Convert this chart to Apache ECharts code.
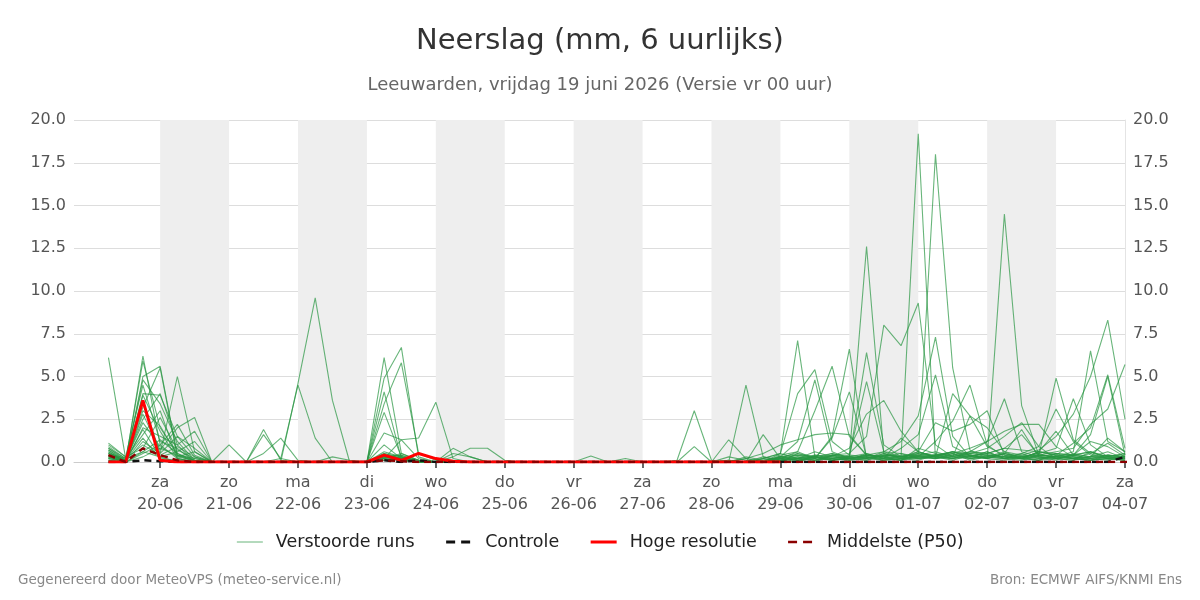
<!DOCTYPE html>
<html>
<head>
<meta charset="utf-8">
<title>Neerslag</title>
<script src="https://cdn.jsdelivr.net/npm/echarts@6/dist/echarts.min.js"></script>
<style>
  html, body { margin: 0; padding: 0; background: #fff; }
  #chart { width: 1200px; height: 600px; }
</style>
</head>
<body>
<div id="chart"></div>
<script>
// tijdas: 6-uurlijks van 18-06 18u tot 04-07 00u, runs beginnen op 19-06 06u
var startTime = Date.UTC(2026, 5, 18, 18);
var stepCount = 62;
var dataOffset = 2;
var dayNames = ['zo', 'ma', 'di', 'wo', 'do', 'vr', 'za'];
// dagen met grijze achtergrond
var shadedDays = ['2026-06-20', '2026-06-22', '2026-06-24', '2026-06-26', '2026-06-28', '2026-06-30', '2026-07-02'];

// verstoorde runs (mm per 6 uur)
var m1  = [6.1,0.2,0.6, 0.3,0,0,0, 0,0,0,0, 0,0,0,0, 0,0.4,0.2,0, 0,0,0,0, 0,0,0,0, 0,0,0,0, 0,0,0,0, 0,0,0,0.1, 0.2,0,0.3,0.1, 0.2,0.1,0.4,0.3, 19.2,0.2,0.5,0.1, 0.3,0.6,0.2,0.1, 0.4,0.2,0.1,0.3, 0.1];
var m2  = [0.5,0,6.2, 1.0,0.2,0,0, 0,0,0,0, 0,0,0,0, 0,0.2,1.3,0.2, 0,0.3,0.8,0.8, 0.1,0,0,0, 0,0,0,0, 0,0,0,0, 0,0.1,0,0, 0.3,0.1,0,0.4, 0.1,0.5,0.2,0.3, 0.5,18.0,5.5,0.7, 0.2,0.1,0.3,0.5, 0.2,0.1,0.6,0.2, 0.1];
var m3  = [0.8,0.1,5.9, 2.0,0.5,0.1,0, 0,0,0,0, 0,0,0,0, 0,6.1,0.5,0.1, 0,0,0,0, 0,0,0,0, 0,0,0,0, 0,0,0,0, 0,0,0.2,0, 0,0.5,0.3,0.1, 0.2,0.4,0.6,1.2, 2.7,7.3,1.5,0.3, 0.6,0.2,0.1,0.4, 0.3,0.2,0.5,1.1, 0.4];
var m4  = [0.3,0,5.0, 5.6,0.4,0,0, 0,0,0,0, 0,0,0,0, 0,0.3,0.1,0, 0,0,0,0, 0,0,0,0, 0,0,0,0, 0,0,0.1,3.0, 0.1,0,0,0.2, 0.1,0,0.4,0.2, 0.1,0.3,0.2,0.8, 1.6,5.1,0.9,0.4, 0.2,0.5,1.9,0.3, 0.2,0.1,0.3,0.6, 0.2];
var m5  = [1.1,0.3,4.5, 1.2,0.8,0,0, 0,0,0,0, 0,0,0.3,0.1, 0,0.2,0.5,0.1, 0,0.5,0.3,0, 0,0,0,0, 0,0,0,0, 0,0,0,0, 0,0.3,0.1,0, 0.2,0.1,0.2,0.5, 0.3,0.2,0.1,0.4, 0.3,1.2,2.4,4.5, 1.0,0.3,0.2,0.6, 0.4,0.3,0.2,0.1, 0.3];
var m6  = [0.6,0,4.0, 3.9,1.5,0.3,0, 0,0,0,0, 0,0,0,0, 0,4.9,6.7,0.3, 0,0,0,0, 0,0,0,0, 0,0,0,0, 0,0,0,0, 0,0,0,0.3, 0.1,0.2,0.6,0.3, 0.2,0.1,0.5,0.3, 0.4,0.2,0.3,2.7, 0.9,0.4,0.2,0.1, 0.5,0.4,1.2,0.9, 0.3];
var m7  = [0.4,0.1,3.6, 0.5,5.0,0.6,0, 0,0,0,0, 0,0,0,0, 0,0.4,0.1,0, 0,0,0,0, 0,0,0,0, 0,0,0,0, 0,0,0,0, 0,0,0,0, 0.1,0.3,0.2,0.1, 0.3,0.5,0.2,1.4, 0.6,2.3,1.8,2.2, 3.0,0.4,0.2,0.3, 0.1,0.5,0.3,0.2, 0.4];
var m8  = [0.9,0.2,3.2, 5.5,0.3,0.1,0, 0,0,0,0, 0,0,0,0, 0,0.6,0.3,0, 0,0,0,0, 0,0,0,0, 0,0,0,0, 0,0,0,0.9, 0,0,0,0, 0.2,0.1,0.3,0.2, 0.1,0.2,0.4,0.3, 0.2,0.3,0.1,0.4, 0.2,14.5,3.3,0.4, 0.3,0.2,0.1,0.4, 0.2];
var m9  = [0.2,0,2.8, 0.7,2.0,2.6,0, 0,0,1.9,0.1, 0,0,0,0, 0,1.7,1.3,1.4, 3.5,0.2,0,0, 0,0,0,0, 0,0,0,0, 0,0,0,0, 0,0,0,0, 0.5,0.2,0.1,0.3, 0.2,0.4,0.3,0.1, 0.8,0.5,0.3,0.6, 1.2,3.7,0.6,0.3, 0.2,0.4,0.6,0.3, 0.5];
var m10 = [0.7,0.1,2.5, 4.0,1.0,0,0, 0,0,0,0, 0,0,0,0, 0,4.1,0.2,0, 0,0,0,0, 0,0,0,0, 0,0,0,0, 0,0,0,0, 0,0,4.5,0.3, 0.1,0.2,0.1,0.4, 0.3,0.2,0.5,0.2, 0.1,0.4,0.6,0.5, 0.8,1.5,2.3,0.9, 0.2,0.3,0.1,0.2, 0.1];
var m11 = [0.3,0,2.0, 1.5,1.0,1.8,0, 0,0,0.5,1.4, 0.1,0,0,0, 0,0.2,0.1,0, 0,0,0,0, 0,0,0,0, 0,0,0,0, 0,0,0,0, 0,0,0,0.2, 0.5,7.1,0.3,0.1, 0.2,0.3,0.1,0.2, 0.4,0.3,0.5,0.8, 1.2,1.8,2.2,2.2, 0.9,0.3,0.2,0.4, 0.3];
var m12 = [0.5,0.2,1.6, 3.0,0.2,0,0, 0,0,0,0, 0,0,0,0, 0,2.9,0.3,0.1, 0,0,0,0, 0,0,0,0, 0,0,0,0, 0,0,0,0, 0,0,0.3,0.1, 0.3,0.4,0.2,1.4, 4.1,0.3,0.2,0.1, 0.3,0.2,0.4,0.6, 0.5,0.8,1.6,0.4, 4.9,1.3,0.5,0.2, 0.3];
var m13 = [0.1,0,1.2, 0.5,1.5,0.8,0, 1.0,0,0,0, 0,0,0,0, 0,0.3,0.2,0, 0,0,0,0, 0,0,0,0, 0,0,0,0, 0,0,0,0, 0,0,0,0.2, 0.5,4.0,5.4,1.2, 0.4,0.3,0.1,0.2, 0.3,0.4,0.5,0.2, 0.3,0.2,0.5,0.9, 3.1,1.2,0.4,0.2, 0.3];
var m14 = [1.0,0.3,0.8, 2.6,0.7,0.2,0, 0,0,0,0, 0,0,0,0, 0,3.4,5.8,0.5, 0.1,0,0,0, 0,0,0,0, 0,0,0,0, 0,0,0,0, 0,1.3,0.2,0, 0.3,0.5,0.2,0.4, 0.2,0.3,0.2,0.1, 0.4,0.6,0.3,0.5, 0.4,0.2,0.3,0.5, 0.8,3.7,1.0,0.3, 0.2];
var m15 = [0.4,0,0.5, 1.0,2.2,0.4,0, 0,0,1.6,0.2, 0,0,0,0, 0,0.1,0.3,0, 0,0,0,0, 0,0,0,0, 0,0,0,0, 0,0,0,0, 0,0,0,1.6, 0.2,0.6,3.0,5.6, 1.5,0.4,0.3,0.2, 0.6,0.3,0.2,0.4, 0.2,0.5,0.3,0.4, 0.3,0.6,6.5,1.2, 0.6];
var m16 = [0.2,0.1,1.9, 0.3,0.6,1.2,0, 0,0,0,0, 4.6,9.6,3.6,0, 0,0.5,0.2,0.1, 0,0,0,0, 0,0,0,0, 0,0,0,0, 0,0,0,0, 0,0,0,0, 0.2,0.3,0.1,0.2, 0.3,0.2,0.6,0.3, 0.5,0.4,0.2,0.3, 0.6,0.2,0.4,0.7, 1.5,2.8,5.0,8.3, 2.5];
var m17 = [0.6,0,0.3, 0.8,0.4,0.1,0, 0,0,0,0, 0,0,0,0, 0,0.2,0.4,0, 0,0,0,0, 0,0,0,0, 0,0.35,0,0, 0,0,0,0, 0,0,0,0, 0.3,1.2,4.8,0.6, 0.2,0.4,0.3,0.1, 0.5,0.3,0.6,0.2, 0.3,0.5,0.2,0.6, 0.4,1.1,2.0,5.1, 0.8];
var m18 = [0.3,0.1,3.9, 1.8,0.2,0,0, 0,0,0,0, 0,0,0,0, 0,1.0,0.2,0, 0,0,0,0, 0,0,0,0, 0,0,0,0, 0,0,0,0, 0,0.1,0,0, 0.4,0.6,0.2,1.5, 6.6,0.2,0.4,0.3, 0.6,0.3,0.2,0.5, 0.4,0.3,0.2,0.6, 0.5,0.4,1.6,5.0, 0.4];
var m19 = [0.8,0.2,1.0, 0.4,0.9,0.3,0, 0,0,0,0, 0,0,0,0, 0,0.3,0.1,0, 0,0,0,0, 0,0,0,0, 0,0,0,0.2, 0,0,0,0, 0,0,0.2,0.5, 1.0,1.3,1.6,1.7, 1.6,0.4,0.3,0.5, 0.2,0.4,0.6,0.3, 0.5,0.3,0.2,0.4, 0.6,0.8,2.2,3.1, 5.7];
var m20 = [0.1,0,0.6, 1.3,0.5,0,0, 0,0,0,0.2, 4.5,1.4,0,0, 0,0.2,0.1,0, 0,0,0,0, 0,0,0,0, 0,0,0,0, 0,0,0,0, 0,0,0,0, 0.1,0.2,0.3,0.1, 0.3,12.6,0.5,0.2, 0.3,0.2,0.4,0.3, 0.2,0.5,0.3,0.2, 0.3,0.2,0.1,0.2, 0.1];
var m21 = [0.5,0.1,2.3, 0.9,0.3,0.6,0, 0,0,0,0, 0,0,0,0, 0,0.4,0.2,0, 0,0.8,0.3,0, 0,0,0,0, 0,0,0,0, 0,0,0,0, 0,0,0,0, 0.2,0.4,0.3,0.5, 0.2,6.4,1.0,0.3, 0.2,0.3,0.6,0.4, 0.3,0.2,0.3,0.1, 0.2,0.4,0.3,1.4, 0.6];
var m22 = [0.2,0,4.8, 3.4,1.2,0.1,0, 0,0,0,0, 0,0,0,0, 0,0.3,0.4,0.1, 0,0,0,0, 0,0,0,0, 0,0,0,0, 0,0,0,0, 0,0,0,0, 0.3,0.2,0.1,0.4, 0.5,1.5,8.0,6.8, 9.3,1.0,0.3,0.2, 0.4,0.3,0.5,0.2, 0.3,0.4,0.2,0.3, 0.2];
var m23 = [0.4,0.1,1.4, 0.2,0.1,0,0, 0,0,0,0, 0,0,0,0, 0,0.1,0.2,0, 0,0,0,0, 0,0,0,0, 0,0,0,0, 0,0,0,0, 0,0,0,0, 0.1,0.2,0.4,0.3, 0.8,2.8,3.6,1.8, 0.6,0.3,4.0,2.7, 2.0,0.6,0.4,0.3, 0.5,0.2,0.3,0.4, 0.3];
var m24 = [0.7,0,3.0, 2.1,0.4,0.2,0, 0,0,0,0, 0,0,0,0, 0,0.5,0.3,0, 0,0,0,0, 0,0,0,0, 0,0,0,0, 0,0,0,0, 0,0,0,0, 0.2,0.1,0.3,0.2, 0.4,4.7,0.6,0.5, 0.3,0.4,0.2,0.6, 0.5,0.8,0.7,0.6, 1.8,0.4,0.6,0.3, 0.5];
var members = [m1, m2, m3, m4, m5, m6, m7, m8, m9, m10, m11, m12, m13, m14, m15, m16, m17, m18, m19, m20, m21, m22, m23, m24];

// hoge resolutie (loopt tot 29-06 00u)
var hires = [0,0,3.6, 0.1,0,0,0, 0,0,0,0, 0,0,0,0, 0,0.4,0.1,0.5, 0.2,0.05,0,0, 0,0,0,0, 0,0,0,0, 0,0,0,0, 0,0,0,0, 0];
// controle run
var controle = [0,0,0.1, 0.05,0,0,0, 0,0,0,0, 0,0,0,0, 0,0.1,0,0.1, 0,0,0,0, 0,0,0,0, 0,0,0,0, 0,0,0,0, 0,0,0,0, 0,0,0,0, 0,0,0,0, 0,0,0,0, 0,0,0,0, 0,0,0,0, 0.3];
// mediaan (P50)
var p50 = [0.4,0,0.8, 0.4,0.1,0,0, 0,0,0,0, 0,0,0,0, 0,0.1,0.05,0, 0,0,0,0, 0,0,0,0, 0,0,0,0, 0,0,0,0, 0,0,0,0, 0,0,0,0, 0,0,0,0, 0,0,0,0, 0,0,0,0, 0,0,0,0, 0,0,0,0, 0];

function pad(n) { return n < 10 ? '0' + n : '' + n; }

var categories = [];
for (var i = 0; i < stepCount; i++) {
  var d = new Date(startTime + i * 6 * 3600 * 1000);
  categories.push(d.getUTCFullYear() + '-' + pad(d.getUTCMonth() + 1) + '-' + pad(d.getUTCDate()) + ' ' + pad(d.getUTCHours()));
}

function isDayStart(idx) {
  return idx >= 5 && categories[idx].slice(11) === '00';
}

function dayLabel(val) {
  var p = val.split(/[- ]/);
  var d = new Date(Date.UTC(+p[0], +p[1] - 1, +p[2]));
  return dayNames[d.getUTCDay()] + '\n' + p[2] + '-' + p[1];
}

function shift(arr) {
  var out = [];
  for (var i = 0; i < dataOffset; i++) out.push(null);
  return out.concat(arr);
}

var bands = shadedDays.map(function (day) {
  var s = categories.indexOf(day + ' 00');
  var e = Math.min(s + 4, stepCount - 1);
  return [{ xAxis: categories[s] }, { xAxis: categories[e] }];
});

var series = [{
  name: 'dagen',
  type: 'line',
  data: [],
  silent: true,
  z: 0,
  markArea: {
    silent: true,
    itemStyle: { color: '#eeeeee' },
    data: bands
  }
}];

members.forEach(function (m) {
  series.push({
    name: 'Verstoorde runs',
    type: 'line',
    data: shift(m),
    symbol: 'none',
    color: '#3a9e52',
    lineStyle: { width: 1.1, color: 'rgba(40,150,65,0.7)' },
    z: 2
  });
});

series.push({
  name: 'Controle',
  type: 'line',
  data: shift(controle),
  symbol: 'none',
  color: '#111111',
  lineStyle: { width: 2.5, color: '#111111', type: [7, 5] },
  z: 3
});
series.push({
  name: 'Hoge resolutie',
  type: 'line',
  data: shift(hires),
  symbol: 'none',
  color: '#ff0000',
  lineStyle: { width: 3, color: '#ff0000' },
  z: 4
});
series.push({
  name: 'Middelste (P50)',
  type: 'line',
  data: shift(p50),
  symbol: 'none',
  color: '#8b0000',
  lineStyle: { width: 2.5, color: '#8b0000', type: [7, 5] },
  z: 6
});

var font = 'DejaVu Sans';
var yLabel = { fontFamily: font, fontSize: 16, color: '#555', formatter: function (v) { return v.toFixed(1); } };

var chart = echarts.init(document.getElementById('chart'));
chart.setOption({
  animation: false,
  backgroundColor: '#fff',
  textStyle: { fontFamily: font },
  title: {
    text: 'Neerslag (mm, 6 uurlijks)',
    subtext: 'Leeuwarden, vrijdag 19 juni 2026 (Versie vr 00 uur)',
    left: 'center',
    top: 22,
    itemGap: 20,
    textStyle: { fontFamily: font, fontSize: 29, fontWeight: 'normal', color: '#333' },
    subtextStyle: { fontFamily: font, fontSize: 18, color: '#666' }
  },
  legend: {
    data: [
      { name: 'Verstoorde runs', lineStyle: { width: 1 } },
      { name: 'Controle', lineStyle: { width: 3, type: [9, 6] } },
      { name: 'Hoge resolutie', lineStyle: { width: 3 } },
      { name: 'Middelste (P50)', lineStyle: { width: 2.5, type: [9, 6] } }
    ],
    bottom: 44,
    left: 'center',
    itemWidth: 26,
    itemHeight: 14,
    itemGap: 30,
    itemStyle: { opacity: 0 },
    textStyle: { fontFamily: font, fontSize: 17.5, color: '#222', padding: [0, 0, 0, 8] }
  },
  grid: { left: 74, right: 75, top: 120, bottom: 138 },
  xAxis: {
    type: 'category',
    data: categories,
    boundaryGap: false,
    axisLine: { show: true, lineStyle: { color: '#cccccc' } },
    axisTick: {
      show: true,
      length: 6,
      interval: function (idx) { return isDayStart(idx); },
      lineStyle: { color: '#666', width: 2 }
    },
    axisLabel: {
      interval: function (idx) { return isDayStart(idx); },
      formatter: function (v) { return dayLabel(v); },
      fontFamily: font,
      fontSize: 16,
      color: '#555',
      lineHeight: 22,
      margin: 10
    },
    splitLine: { show: false }
  },
  yAxis: [{
    type: 'value',
    min: 0,
    max: 20,
    interval: 2.5,
    axisLine: { show: false },
    axisTick: { show: false },
    axisLabel: yLabel,
    splitLine: { lineStyle: { color: '#dddddd' } }
  }, {
    type: 'value',
    position: 'right',
    min: 0,
    max: 20,
    interval: 2.5,
    axisLine: { show: true, lineStyle: { color: '#e4e4e4' } },
    axisTick: { show: false },
    axisLabel: yLabel,
    splitLine: { show: false }
  }],
  graphic: [{
    type: 'text',
    left: 18,
    top: 573,
    style: { text: 'Gegenereerd door MeteoVPS (meteo-service.nl)', fontFamily: font, fontSize: 13.5, fill: '#888' }
  }, {
    type: 'text',
    right: 18,
    top: 573,
    style: { text: 'Bron: ECMWF AIFS/KNMI Ens', fontFamily: font, fontSize: 13.5, fill: '#888' }
  }],
  series: series
});
</script>
</body>
</html>
